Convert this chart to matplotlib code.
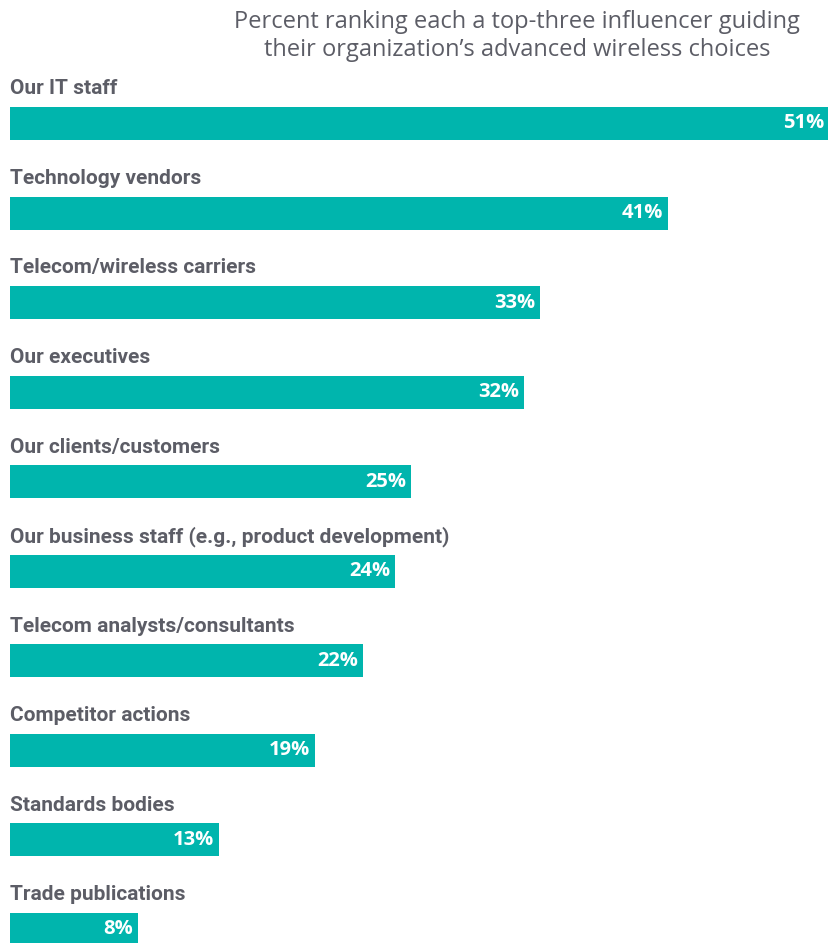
import matplotlib
matplotlib.use("Agg")
import matplotlib.pyplot as plt

categories = [
    "Our IT staff",
    "Technology vendors",
    "Telecom/wireless carriers",
    "Our executives",
    "Our clients/customers",
    "Our business staff (e.g., product development)",
    "Telecom analysts/consultants",
    "Competitor actions",
    "Standards bodies",
    "Trade publications",
]
values = [51, 41, 33, 32, 25, 24, 22, 19, 13, 8]
title_lines = [
    "Percent ranking each a top-three influencer guiding",
    "their organization\u2019s advanced wireless choices",
]

teal = "#00B5AD"
gray = "#5C5D66"
label_font = ["Roboto", "DejaVu Sans"]
open_sans = ["Open Sans", "DejaVu Sans"]

W, H = 829, 943
fig = plt.figure(figsize=(W / 100, H / 100), dpi=100)
# axes spans bar area: x from 10px to right edge, full height
ax = fig.add_axes([10 / W, 0, 1 - 10 / W, 1])
ax.set_xlim(0, 51)
# bar centre i sits at pixel 123.5 + 89.5*i from the top
ax.set_ylim((H - 123.5) / 89.5, -123.5 / 89.5)
ax.axis("off")

ypos = list(range(len(categories)))
ax.barh(ypos, values, height=33 / 89.5, color=teal)

for y, cat, v in zip(ypos, categories, values):
    ax.annotate(cat, (0, y), xytext=(0, 29), textcoords="offset pixels",
                ha="left", va="baseline", fontsize=15, fontweight="bold",
                color=gray, family=label_font)
    ax.annotate(f"{v}%", (v, y), xytext=(-5, 0), textcoords="offset pixels",
                ha="right", va="center", fontsize=14.5, fontweight="bold",
                color="white", family=open_sans)

for i, line in enumerate(title_lines):
    fig.text(517 / W, 1 - (28 + 28 * i) / H, line, ha="center", va="baseline",
             fontsize=17, color=gray, family=open_sans)

fig.savefig("out.png", dpi=100)
